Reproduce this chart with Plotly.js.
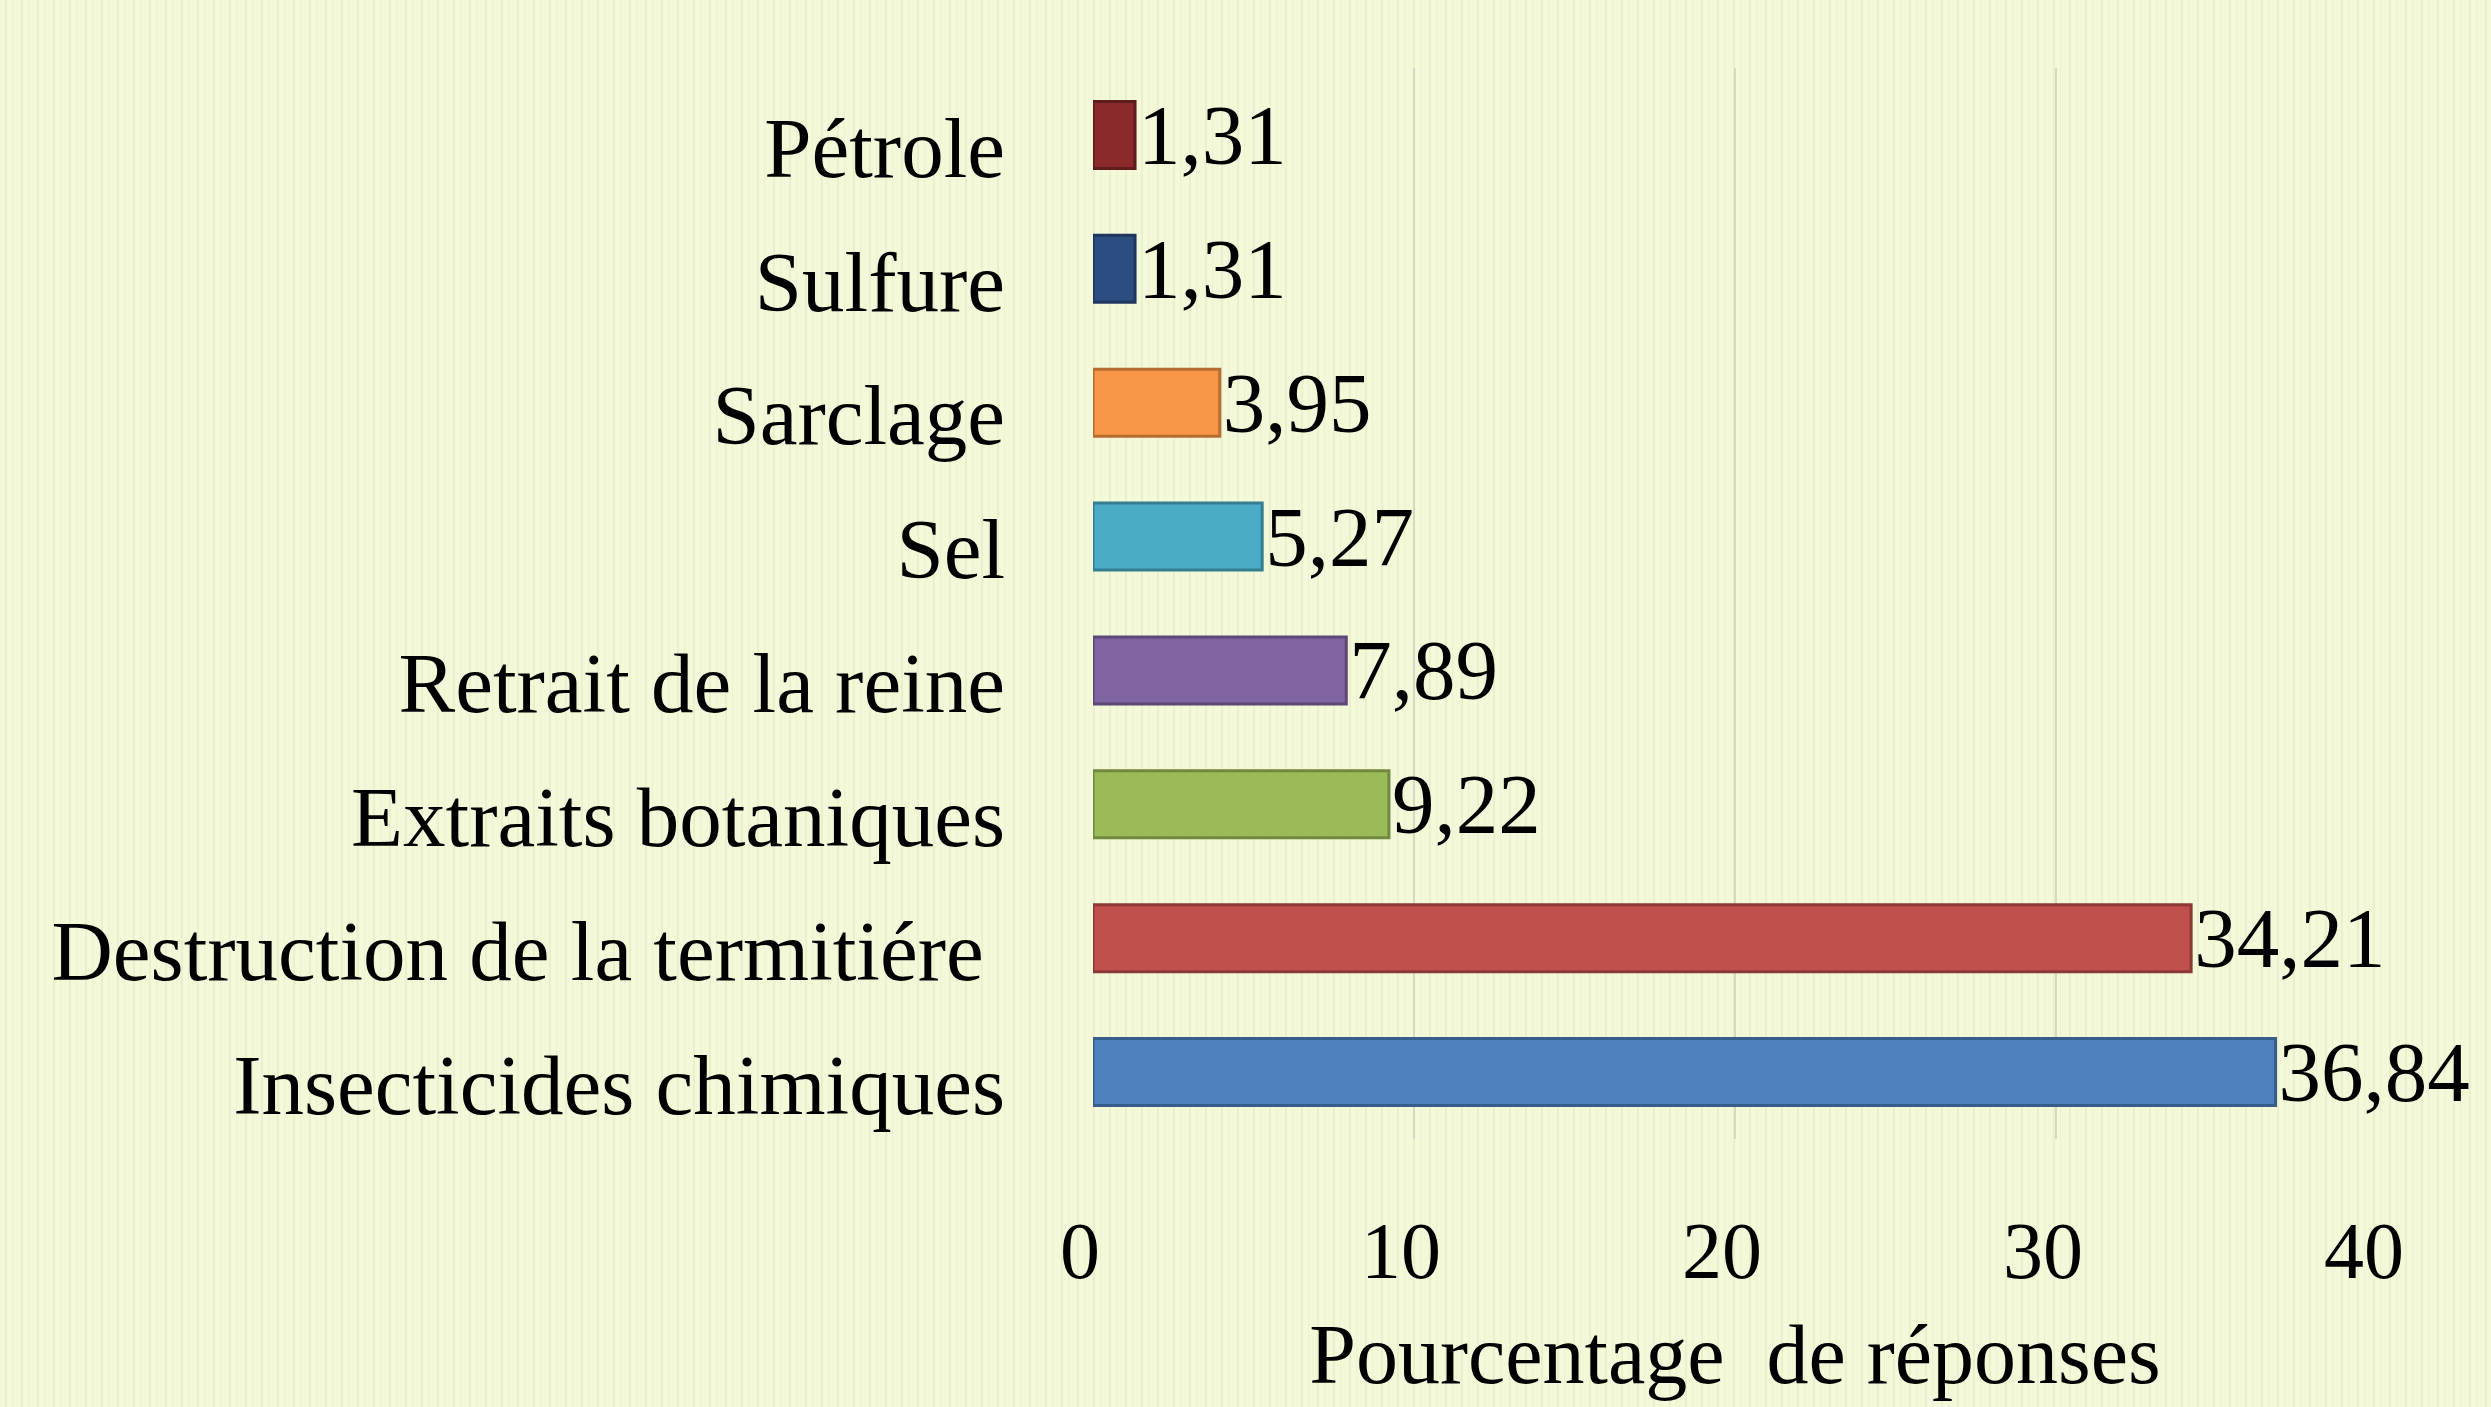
<!DOCTYPE html>
<html>
<head>
<meta charset="utf-8">
<script src="https://cdn.plot.ly/plotly-3.0.1.min.js"></script>
<style>
  html, body { margin: 0; padding: 0; }
  body {
    width: 2491px; height: 1407px; overflow: hidden;
    background-color: #F2F7D5;
    background-image: repeating-linear-gradient(90deg,
      #F3F8D8 0px, #F3F8D8 5px, #EAF0C9 5px, #EAF0C9 7px,
      #F4F9DB 7px, #F4F9DB 12px, #EDF2CD 12px, #EDF2CD 13px,
      #F3F8D8 13px, #F3F8D8 16px);
  }
  #chart { width: 2491px; height: 1407px; }
</style>
</head>
<body>
<div id="chart"></div>
<script>
// Data (bottom to top)
const categories = [
  "Insecticides chimiques",
  "Destruction de la termitiére\u00a0",
  "Extraits botaniques",
  "Retrait de la reine",
  "Sel",
  "Sarclage",
  "Sulfure",
  "Pétrole"
];
const values = [36.84, 34.21, 9.22, 7.89, 5.27, 3.95, 1.31, 1.31];
const barColors = ["#4F81BD", "#C0504D", "#9BBB59", "#8064A2", "#4BACC6", "#F79646", "#2C4D80", "#8A2A2A"];
const edgeColors = ["#385D8A", "#8C3836", "#71893F", "#5C4776", "#357D91", "#B66D31", "#1F3760", "#5E1C1C"];
const tickValues = [0, 10, 20, 30, 40];
const xTitle = "Pourcentage\u2002de réponses";

const FONT = "Liberation Serif, Times New Roman, serif";

const trace = {
  type: "bar",
  orientation: "h",
  y: categories,
  x: values,
  marker: { color: barColors, line: { color: edgeColors, width: 3 } },
  texttemplate: "%{x:.2f}",
  textposition: "outside",
  constraintext: "none",
  cliponaxis: false,
  textfont: { family: FONT, size: 85, color: "#000000" },
  hoverinfo: "skip"
};

const layout = {
  width: 2491,
  height: 1407,
  paper_bgcolor: "rgba(0,0,0,0)",
  plot_bgcolor: "rgba(0,0,0,0)",
  separators: ",.",
  margin: { l: 1093, r: 114, t: 68, b: 268, pad: 0 },
  bargap: 0.5,
  showlegend: false,
  font: { family: FONT, color: "#000000" },
  xaxis: {
    range: [0, 40],
    tickvals: tickValues,
    ticktext: tickValues.map(String),
    showgrid: true,
    gridcolor: "#D6D9C2",
    gridwidth: 2,
    zeroline: false,
    showline: false,
    ticks: "outside",
    ticklen: 42,
    ticklabelshift: -13,
    tickcolor: "rgba(0,0,0,0)",
    tickfont: { family: FONT, size: 80, color: "#000000" },
    title: { text: xTitle, font: { family: FONT, size: 84, color: "#000000" }, standoff: 30 }
  },
  yaxis: {
    type: "category",
    showgrid: false,
    zeroline: false,
    showline: false,
    ticks: "outside",
    ticklen: 70,
    ticklabelshift: 12,
    tickcolor: "rgba(0,0,0,0)",
    tickfont: { family: FONT, size: 85, color: "#000000" }
  }
};

Plotly.newPlot("chart", [trace], layout, { staticPlot: true, displayModeBar: false });
</script>
</body>
</html>
